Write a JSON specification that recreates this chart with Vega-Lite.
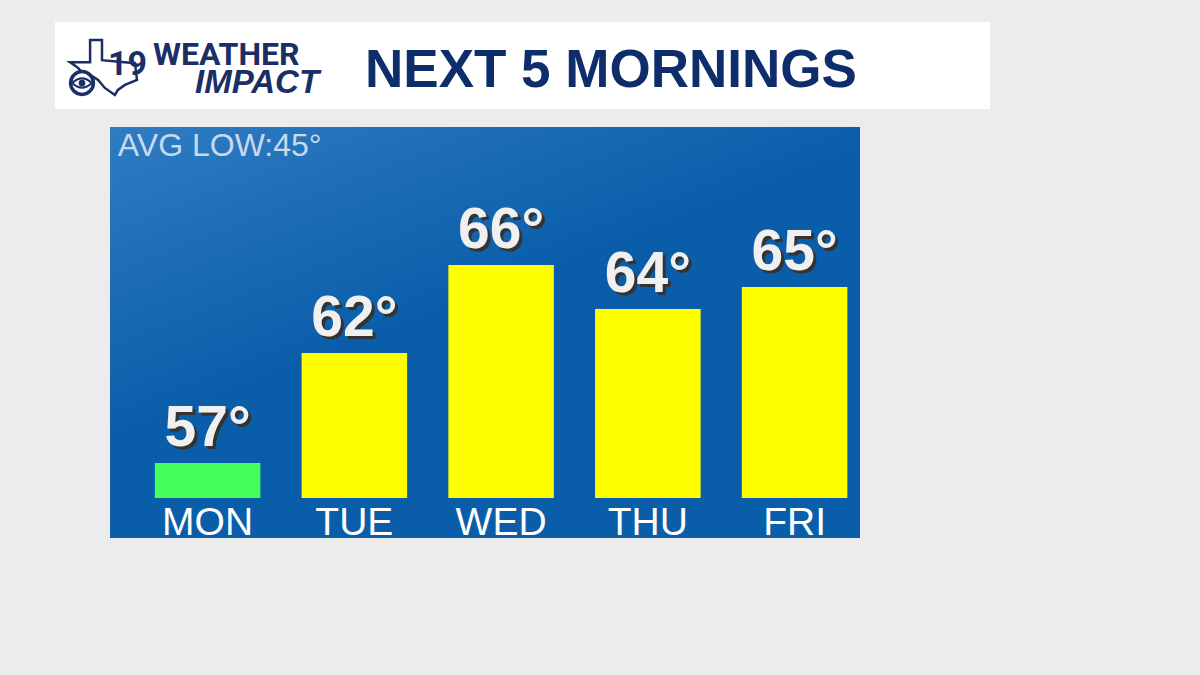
{
  "$schema": "https://vega.github.io/schema/vega-lite/v6.json",
  "background": "#ececec",
  "padding": {"left": 55, "top": 22, "right": 210, "bottom": 137},
  "spacing": 18,
  "config": {"view": {"stroke": null}, "font": "Liberation Sans"},
  "datasets": {
    "mornings": [
      {"day": "MON", "low": 57, "label": "57°", "band": "cooler"},
      {"day": "TUE", "low": 62, "label": "62°", "band": "warmer"},
      {"day": "WED", "low": 66, "label": "66°", "band": "warmer"},
      {"day": "THU", "low": 64, "label": "64°", "band": "warmer"},
      {"day": "FRI", "low": 65, "label": "65°", "band": "warmer"}
    ],
    "header": [{"title": "NEXT 5 MORNINGS"}],
    "note": [{"note": "AVG LOW:45°"}]
  },
  "vconcat": [
    {
      "width": 935,
      "height": 87,
      "view": {"fill": "#ffffff", "stroke": null},
      "data": {"name": "header"},
      "layer": [
        {
          "mark": {"type": "point", "shape": "M-0.40,-0.82L-0.045,-0.82L-0.045,-0.22L0.94,-0.13L1,0.37L0.64,0.52L0.43,0.67L0.34,0.82L0.04,0.61L-0.16,0.37L-0.40,0.22L-0.55,0.25L-0.76,0.01L-1,-0.16L-0.40,-0.16Z", "size": 4489, "filled": false, "stroke": "#1b2f66", "strokeWidth": 2.5, "opacity": 1},
          "encoding": {
            "x": {"datum": 48.5, "type": "quantitative", "scale": {"domain": [0, 935], "nice": false, "zero": false}, "axis": null},
            "y": {"datum": 45.5, "type": "quantitative", "scale": {"domain": [0, 87], "nice": false, "zero": false, "reverse": true}, "axis": null}
          }
        },
        {
          "mark": {"type": "point", "shape": "circle", "size": 520, "filled": true, "fill": "#ffffff", "stroke": "#1b2f66", "strokeWidth": 3.5, "opacity": 1},
          "encoding": {
            "x": {"datum": 27, "type": "quantitative"},
            "y": {"datum": 61, "type": "quantitative"}
          }
        },
        {
          "mark": {"type": "point", "shape": "M-1,0Q0,-0.95 1,0Q0,0.95 -1,0Z", "size": 380, "filled": false, "stroke": "#1b2f66", "strokeWidth": 2, "opacity": 1},
          "encoding": {
            "x": {"datum": 27, "type": "quantitative"},
            "y": {"datum": 61, "type": "quantitative"}
          }
        },
        {
          "mark": {"type": "point", "shape": "circle", "size": 45, "filled": true, "color": "#1b2f66", "opacity": 1},
          "encoding": {
            "x": {"datum": 27, "type": "quantitative"},
            "y": {"datum": 61, "type": "quantitative"}
          }
        },
        {
          "mark": {"type": "text", "text": "19", "font": "Roboto", "fontWeight": "bold", "fontSize": 34, "color": "#1b2f66", "align": "left", "baseline": "alphabetic", "letterSpacing": -3},
          "encoding": {
            "x": {"datum": 53, "type": "quantitative"},
            "y": {"datum": 53, "type": "quantitative"}
          }
        },
        {
          "mark": {"type": "text", "text": "WEATHER", "font": "Roboto", "fontWeight": "bold", "fontSize": 32, "color": "#1b2f66", "align": "left", "baseline": "alphabetic", "letterSpacing": -2},
          "encoding": {
            "x": {"datum": 98, "type": "quantitative"},
            "y": {"datum": 43, "type": "quantitative"}
          }
        },
        {
          "mark": {"type": "text", "text": "IMPACT", "fontStyle": "italic", "fontWeight": "bold", "fontSize": 33, "color": "#1b2f66", "align": "left", "baseline": "alphabetic"},
          "encoding": {
            "x": {"datum": 140, "type": "quantitative"},
            "y": {"datum": 71, "type": "quantitative"}
          }
        },
        {
          "mark": {"type": "text", "fontWeight": "bold", "fontSize": 53, "color": "#0e2d6b", "align": "left", "baseline": "alphabetic"},
          "encoding": {
            "text": {"field": "title"},
            "x": {"datum": 310, "type": "quantitative"},
            "y": {"datum": 65, "type": "quantitative"}
          }
        }
      ]
    },
    {
      "spacing": 0,
      "hconcat": [
        {
          "width": 55,
          "height": 411,
          "view": {"fill": null, "stroke": null},
          "data": {"values": [{"blank": ""}]},
          "mark": {"type": "text"},
          "encoding": {"text": {"field": "blank"}}
        },
        {
          "width": 750,
          "height": 411,
          "view": {
            "stroke": null,
            "fill": {"gradient": "linear", "x1": 0, "y1": 0, "x2": 0.35, "y2": 0.5, "stops": [{"offset": 0, "color": "#2f7cc3"}, {"offset": 1, "color": "#0a5ea9"}]}
          },
          "layer": [
            {
              "data": {"name": "mornings"},
              "mark": {"type": "bar"},
              "encoding": {
                "x": {"field": "day", "type": "nominal", "sort": null, "scale": {"paddingInner": 0.281, "paddingOuter": 0.196, "align": 0.78}, "axis": null},
                "y": {"field": "low", "type": "quantitative", "scale": {"domain": [53.59, 72.27], "nice": false, "zero": false}, "axis": null},
                "y2": {"datum": 55.41},
                "color": {"field": "band", "type": "nominal", "scale": {"domain": ["cooler", "warmer"], "range": ["#47ff5a", "#ffff00"]}, "legend": null}
              }
            },
            {
              "data": {"name": "mornings"},
              "mark": {"type": "text", "fontWeight": "bold", "fontSize": 57, "color": "#333333", "baseline": "alphabetic", "dx": 3, "dy": -14},
              "encoding": {
                "x": {"field": "day", "type": "nominal", "sort": null},
                "y": {"field": "low", "type": "quantitative"},
                "text": {"field": "label"}
              }
            },
            {
              "data": {"name": "mornings"},
              "mark": {"type": "text", "fontWeight": "bold", "fontSize": 57, "color": "#f0f0f0", "baseline": "alphabetic", "dy": -17},
              "encoding": {
                "x": {"field": "day", "type": "nominal", "sort": null},
                "y": {"field": "low", "type": "quantitative"},
                "text": {"field": "label"}
              }
            },
            {
              "data": {"name": "mornings"},
              "mark": {"type": "text", "fontSize": 39, "color": "#ffffff", "baseline": "alphabetic"},
              "encoding": {
                "x": {"field": "day", "type": "nominal", "sort": null},
                "y": {"datum": 53.73, "type": "quantitative"},
                "text": {"field": "day"}
              }
            },
            {
              "data": {"name": "note"},
              "mark": {"type": "text", "fontSize": 32, "color": "#c9d9ec", "align": "left", "baseline": "alphabetic", "dx": -37},
              "encoding": {
                "x": {"datum": "MON", "type": "nominal", "bandPosition": 0},
                "y": {"datum": 70.95, "type": "quantitative"},
                "text": {"field": "note"}
              }
            }
          ]
        }
      ]
    }
  ]
}
